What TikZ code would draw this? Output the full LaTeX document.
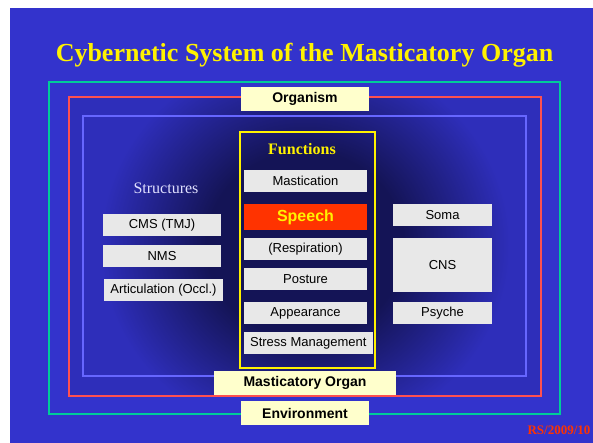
\documentclass[tikz,border=0pt]{standalone}
\usepackage{fontspec}
\setmainfont{Liberation Serif}
\setsansfont{Liberation Sans}
\usetikzlibrary{positioning}
\definecolor{slideblue}{RGB}{51,51,204}
\definecolor{innerblue}{RGB}{46,46,186}
\definecolor{deepblue}{RGB}{20,20,86}
\definecolor{boxgrey}{RGB}{232,232,232}
\definecolor{tagyellow}{RGB}{255,255,204}
\definecolor{speechred}{RGB}{255,51,0}
\definecolor{ringgreen}{RGB}{0,204,153}
\definecolor{ringred}{RGB}{255,80,80}
\definecolor{ringviolet}{RGB}{102,102,255}
\pgfdeclareradialshading{darkcore}{\pgfpoint{0bp}{0bp}}{%
    color(0bp)=(deepblue); color(12bp)=(deepblue);
    color(25bp)=(innerblue); color(50bp)=(innerblue)}
\tikzset{
    greybox/.style={
        rectangle,
        fill=boxgrey,
        inner sep=0pt,
        minimum width=123pt,
        minimum height=22pt,
        text centered,
        font=\sffamily\fontsize{13}{15}\selectfont
    },
    tagbox/.style={
        rectangle,
        fill=tagyellow,
        inner sep=0pt,
        minimum height=24pt,
        font=\sffamily\bfseries\fontsize{14}{16}\selectfont
    },
    ring/.style={draw, line width=2pt}
}

\begin{document}
\begin{tikzpicture}[x=1pt,y=-1pt,
            heading/.style={
                text=yellow,
                font=\rmfamily\bfseries\fontsize{26}{30}\selectfont
            },
            subhead/.style={
                font=\rmfamily\fontsize{16}{18}\selectfont
            }]
    \useasboundingbox (0,0) rectangle (593,443);
    \fill[white] (0,0) rectangle (593,443);
    \fill[slideblue] (10,8) rectangle (593,443);
    \fill[innerblue] (69,97) rectangle (541,396);
    \begin{scope}
        \clip (69,97) rectangle (541,396);
        \shade[shading=darkcore] (100,50) rectangle (510,440);
    \end{scope}

    % frames
    \draw[ring, ringgreen] (49,82) rectangle (560,414);
    \draw[ring, ringred] (69,97) rectangle (541,396);
    \draw[ring, ringviolet] (83,116) rectangle (526,376);
    \draw[ring, yellow] (239.5,132) rectangle (374.5,367.5);

    \node[heading] (title) at (304.5,55) {Cybernetic System of the Masticatory Organ};

    % functions
    \node[subhead, text=yellow, font=\rmfamily\bfseries\fontsize{16}{18}\selectfont] (functions) at (302,149) {Functions};
    \node[greybox] (mastication) at (305.5,181) {Mastication};
    \node[greybox, fill=speechred, text=yellow, minimum height=26pt,
          font=\sffamily\bfseries\fontsize{16}{18}\selectfont] (speech) at (305.5,217) {Speech};
    \node[greybox] (respiration) at (305.5,249) {(Respiration)};
    \node[greybox] (posture) at (305.5,279) {Posture};
    \node[greybox] (appearance) at (305.5,313) {Appearance};
    \node[greybox, minimum width=128.5pt] (stress) at (308.25,343) {Stress Management};

    % structures
    \node[subhead, text=blue!12!white] (structures) at (166,188) {Structures};
    \node[greybox, minimum width=118pt] (cms) at (162,225) {CMS (TMJ)};
    \node[greybox, minimum width=118pt] (nms) at (162,256) {NMS};
    \node[greybox, minimum width=119pt] (articulation) at (163.5,290) {Articulation (Occl.)};

    % organism side
    \node[greybox, minimum width=98.5pt] (soma) at (442.5,215) {Soma};
    \node[greybox, minimum width=98.5pt, minimum height=54pt] (cns) at (442.5,265) {CNS};
    \node[greybox, minimum width=98.5pt] (psyche) at (442.5,313) {Psyche};

    % tags on the frames
    \node[tagbox, minimum width=128pt] (organism) at (305,99) {Organism};
    \node[tagbox, minimum width=182pt] (organ) at (305,383) {Masticatory Organ};
    \node[tagbox, minimum width=128pt] (environment) at (305,413) {Environment};

    \node[anchor=west, text=speechred, font=\rmfamily\bfseries\fontsize{13}{15}\selectfont] (stamp) at (524,430) {RS/2009/10};
\end{tikzpicture}
\end{document}
